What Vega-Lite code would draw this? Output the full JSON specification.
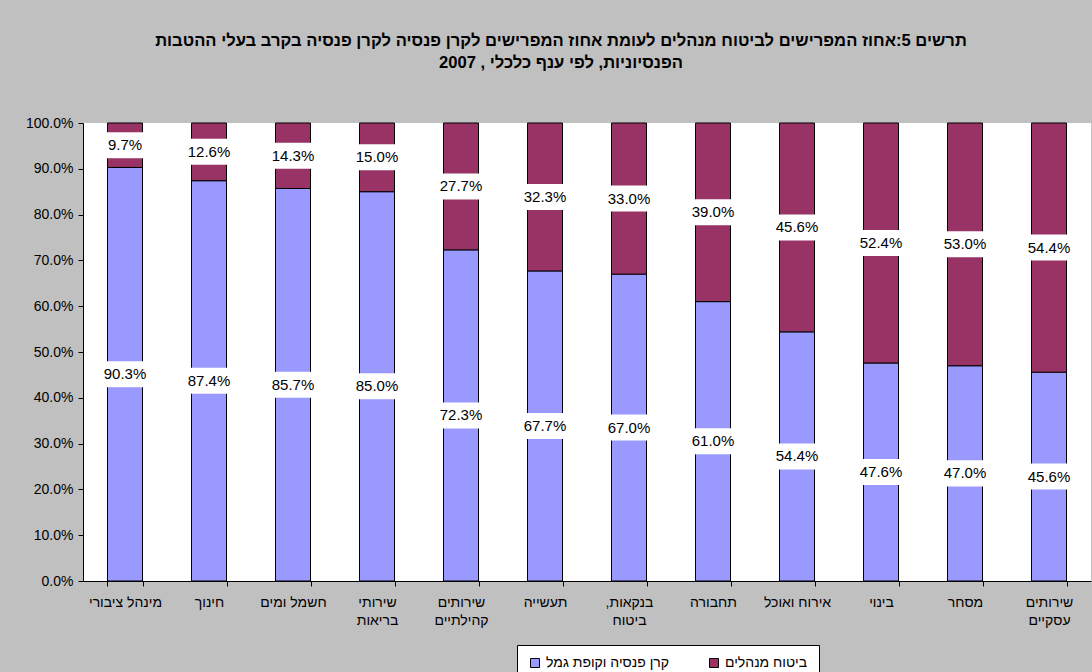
{
  "$schema": "https://vega.github.io/schema/vega-lite/v6.json",
  "width": 1008,
  "height": 458,
  "autosize": {"type": "none"},
  "padding": {"left": 83, "top": 123, "right": 1, "bottom": 91},
  "background": "#c0c0c0",
  "config": {
    "font": "Liberation Sans",
    "view": {"fill": "white", "stroke": null},
    "axis": {"grid": false, "domainColor": "black", "tickColor": "black", "labelColor": "black", "labelFont": "Liberation Sans", "labelFontSize": 14, "tickSize": 5, "title": null}
  },
  "title": {
    "text": ["תרשים 5:אחוז המפרישים לביטוח מנהלים לעומת אחוז המפרישים לקרן פנסיה לקרן פנסיה בקרב בעלי ההטבות", "הפנסיוניות, לפי ענף כלכלי , 2007"],
    "font": "Liberation Sans",
    "fontSize": 16.6,
    "fontWeight": "bold",
    "color": "black",
    "anchor": "middle",
    "dx": -26,
    "offset": 44,
    "lineHeight": 22
  },
  "data": {
    "values": [
      {"sector": "מינהל ציבורי", "series": "קרן פנסיה וקופת גמל", "value": 0.903},
      {"sector": "מינהל ציבורי", "series": "ביטוח מנהלים", "value": 0.097},
      {"sector": "חינוך", "series": "קרן פנסיה וקופת גמל", "value": 0.874},
      {"sector": "חינוך", "series": "ביטוח מנהלים", "value": 0.126},
      {"sector": "חשמל ומים", "series": "קרן פנסיה וקופת גמל", "value": 0.857},
      {"sector": "חשמל ומים", "series": "ביטוח מנהלים", "value": 0.143},
      {"sector": "שירותי\nבריאות", "series": "קרן פנסיה וקופת גמל", "value": 0.85},
      {"sector": "שירותי\nבריאות", "series": "ביטוח מנהלים", "value": 0.15},
      {"sector": "שירותים\nקהילתיים", "series": "קרן פנסיה וקופת גמל", "value": 0.723},
      {"sector": "שירותים\nקהילתיים", "series": "ביטוח מנהלים", "value": 0.277},
      {"sector": "תעשייה", "series": "קרן פנסיה וקופת גמל", "value": 0.677},
      {"sector": "תעשייה", "series": "ביטוח מנהלים", "value": 0.323},
      {"sector": "בנקאות,\u200F\nביטוח", "series": "קרן פנסיה וקופת גמל", "value": 0.67},
      {"sector": "בנקאות,\u200F\nביטוח", "series": "ביטוח מנהלים", "value": 0.33},
      {"sector": "תחבורה", "series": "קרן פנסיה וקופת גמל", "value": 0.61},
      {"sector": "תחבורה", "series": "ביטוח מנהלים", "value": 0.39},
      {"sector": "אירוח ואוכל", "series": "קרן פנסיה וקופת גמל", "value": 0.544},
      {"sector": "אירוח ואוכל", "series": "ביטוח מנהלים", "value": 0.456},
      {"sector": "בינוי", "series": "קרן פנסיה וקופת גמל", "value": 0.476},
      {"sector": "בינוי", "series": "ביטוח מנהלים", "value": 0.524},
      {"sector": "מסחר", "series": "קרן פנסיה וקופת גמל", "value": 0.47},
      {"sector": "מסחר", "series": "ביטוח מנהלים", "value": 0.53},
      {"sector": "שירותים\nעסקיים", "series": "קרן פנסיה וקופת גמל", "value": 0.456},
      {"sector": "שירותים\nעסקיים", "series": "ביטוח מנהלים", "value": 0.544}
    ]
  },
  "transform": [
    {"stack": "value", "groupby": ["sector"], "sort": [{"field": "series", "order": "descending"}], "as": ["v0", "v1"]},
    {"calculate": "(datum.v0 + datum.v1) / 2", "as": "mid"}
  ],
  "encoding": {
    "x": {
      "field": "sector",
      "type": "nominal",
      "sort": null,
      "scale": {"paddingInner": 0.583, "paddingOuter": 0.2915},
      "axis": {"labelAngle": 0, "tickBand": "extent", "labelPadding": 9, "labelBaseline": "top", "labelLineHeight": 18, "labelExpr": "split(datum.label, '\\n')", "domainWidth": 1}
    }
  },
  "layer": [
    {
      "mark": {"type": "bar", "stroke": "black", "strokeWidth": 1},
      "encoding": {
        "y": {"field": "v1", "type": "quantitative", "scale": {"domain": [0, 1], "nice": false}, "axis": {"values": [0, 0.1, 0.2, 0.3, 0.4, 0.5, 0.6, 0.7, 0.8, 0.9, 1], "format": ".1%", "labelPadding": 5}},
        "y2": {"field": "v0"},
        "color": {
          "field": "series",
          "type": "nominal",
          "scale": {"domain": ["קרן פנסיה וקופת גמל", "ביטוח מנהלים"], "range": ["#9999FF", "#993366"]},
          "legend": {
            "title": null,
            "orient": "none",
            "direction": "horizontal",
            "legendX": 434,
            "legendY": 522,
            "fillColor": "white",
            "strokeColor": "black",
            "padding": 11,
            "symbolType": "square",
            "symbolSize": 81,
            "symbolStrokeColor": "black",
            "symbolStrokeWidth": 1,
            "symbolOpacity": 1,
            "labelFontSize": 14,
            "labelColor": "black",
            "labelFont": "Liberation Sans",
            "labelOffset": 4,
            "columnPadding": 38,
            "labelLimit": 300
          }
        }
      }
    },
    {
      "transform": [{"filter": "datum.value >= 0.1"}],
      "mark": {"type": "point", "shape": "M-1,-0.578H1V0.578H-1Z", "size": 2025, "filled": true, "fill": "white", "stroke": null, "opacity": 1},
      "encoding": {"y": {"field": "mid", "type": "quantitative"}}
    },
    {
      "transform": [{"filter": "datum.value < 0.1"}],
      "mark": {"type": "point", "shape": "M-1,-0.722H1V0.722H-1Z", "size": 1296, "filled": true, "fill": "white", "stroke": null, "opacity": 1},
      "encoding": {"y": {"field": "mid", "type": "quantitative"}}
    },
    {
      "mark": {"type": "text", "fontSize": 15, "color": "black", "baseline": "middle", "align": "center", "font": "Liberation Sans"},
      "encoding": {
        "y": {"field": "mid", "type": "quantitative"},
        "text": {"field": "value", "type": "quantitative", "format": ".1%"}
      }
    }
  ]
}
